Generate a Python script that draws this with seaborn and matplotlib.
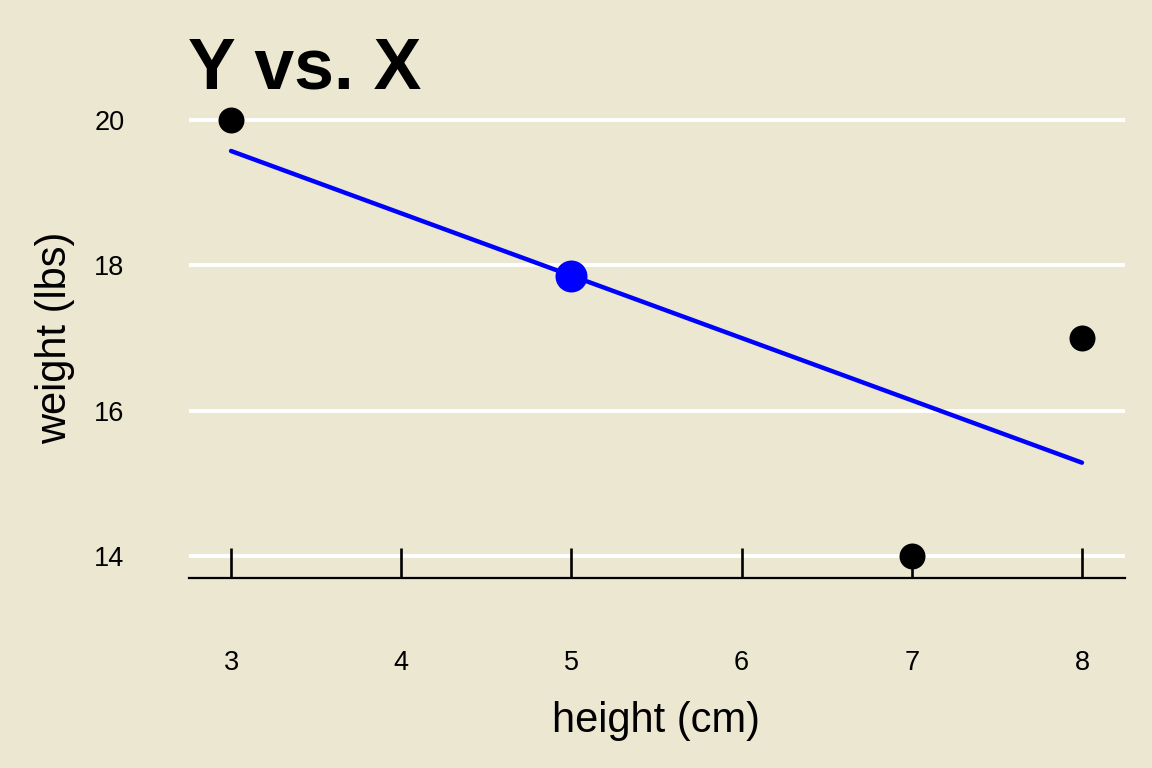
import numpy as np
import pandas as pd
import seaborn as sns
import matplotlib.pyplot as plt

# data
height = [3, 7, 8]
weight = [20, 14, 17]
query_height = 5

bg = "#ebe7d1"

sns.set_theme(style="white")
plt.rcParams['font.family'] = ['Liberation Sans', 'DejaVu Sans']
plt.rcParams['text.color'] = 'black'
plt.rcParams['axes.labelcolor'] = 'black'
plt.rcParams['xtick.color'] = 'black'
plt.rcParams['ytick.color'] = 'black'

df = pd.DataFrame({"height": height, "weight": weight})
slope, intercept = np.polyfit(df["height"], df["weight"], 1)
pred = slope * query_height + intercept

fig = plt.figure(figsize=(11.52, 7.68), dpi=100, facecolor=bg)
ax = fig.add_axes([188.5 / 1152, 1 - 578 / 768, (1124.5 - 188.5) / 1152, (578 - 98) / 768])
ax.set_facecolor(bg)

sns.regplot(data=df, x="height", y="weight", ci=None, ax=ax,
            scatter_kws=dict(s=350, color="black", alpha=1, zorder=4, linewidths=0),
            line_kws=dict(color="blue", lw=3.2, zorder=3))
ax.scatter([query_height], [pred], s=530, color="blue", zorder=5, linewidths=0)

ax.set_xlim(2.75, 8.25)
ax.set_ylim(13.7, 20.3)
ax.set_xticks([3, 4, 5, 6, 7, 8])
ax.set_yticks([14, 16, 18, 20])

ax.grid(axis="y", color="white", lw=2.8)
ax.grid(axis="x", visible=False)
ax.set_axisbelow(True)
ax.xaxis.set_zorder(1)

for s in ["top", "right", "left"]:
    ax.spines[s].set_visible(False)
ax.spines["bottom"].set_color("black")
ax.spines["bottom"].set_linewidth(1.6)

ax.tick_params(axis="x", direction="in", length=21.6, width=1.9, color="black",
               pad=52, labelsize=19.5, bottom=True)
ax.tick_params(axis="y", length=0, pad=46, labelsize=19.5, left=False)

ax.set_xlabel("height (cm)", fontsize=30, labelpad=18)
ax.set_ylabel("weight (lbs)", fontsize=30, labelpad=14)
ax.set_title("Y vs. X", loc="left", fontsize=51.5, fontweight="bold", pad=7)

fig.savefig("out.png", dpi=100, facecolor=bg)
